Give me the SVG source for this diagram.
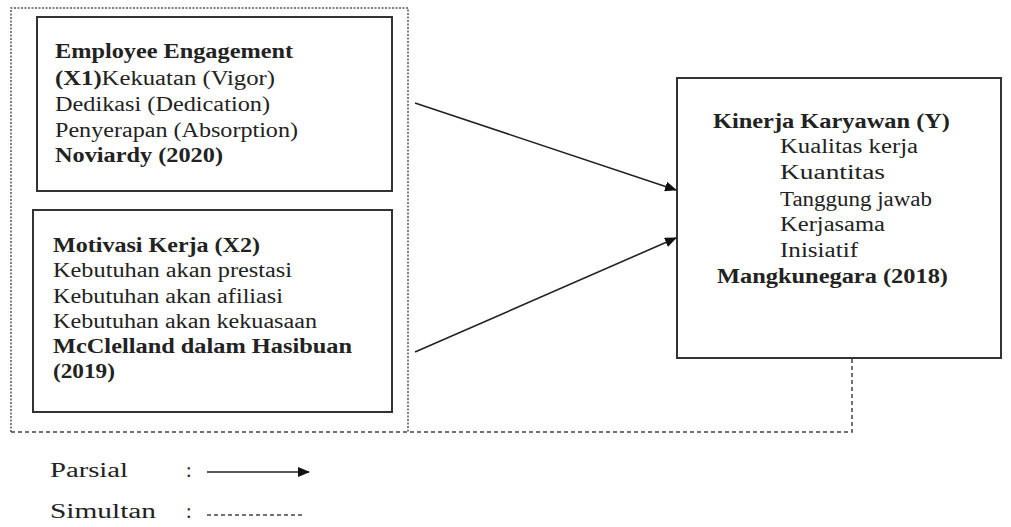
<svg xmlns="http://www.w3.org/2000/svg" width="1011" height="527" viewBox="0 0 1011 527">
<defs>
<style>
text{font-family:"Liberation Serif","Tinos","Times New Roman","DejaVu Serif",serif;font-size:20px;fill:#222}
.b{font-weight:bold}
.box{fill:none;stroke:#333;stroke-width:2}
.dot{fill:none;stroke:#555;stroke-width:1.5;stroke-dasharray:2 1.5}
.dash{fill:none;stroke:#444;stroke-width:1.5;stroke-dasharray:4 3}
.arr{stroke:#222;stroke-width:1.6;fill:none;marker-end:url(#ah)}
</style>
<marker id="ah" markerWidth="12" markerHeight="10" refX="11" refY="5" orient="auto" markerUnits="userSpaceOnUse">
<path d="M0,0 L12,5 L0,10 Z" fill="#111"/>
</marker>
</defs>
<rect width="1011" height="527" fill="#fff"/>
<g id="frame">
<path class="dot" d="M11,432 L11,8 L408,8 L408,432"/>
</g>
<g id="x1">
<rect class="box" x="37" y="17" width="355" height="174"/>
<text x="55" y="58" class="b" textLength="238" lengthAdjust="spacingAndGlyphs">Employee Engagement</text>
<text x="55" y="85" textLength="220" lengthAdjust="spacingAndGlyphs"><tspan class="b">(X1)</tspan>Kekuatan (Vigor)</text>
<text x="55" y="111" textLength="215" lengthAdjust="spacingAndGlyphs">Dedikasi (Dedication)</text>
<text x="55" y="137" textLength="243" lengthAdjust="spacingAndGlyphs">Penyerapan (Absorption)</text>
<text x="55" y="162" class="b" textLength="168" lengthAdjust="spacingAndGlyphs">Noviardy (2020)</text>
</g>
<g id="x2">
<rect class="box" x="33" y="210" width="359" height="202"/>
<text x="53" y="252" class="b" textLength="207" lengthAdjust="spacingAndGlyphs">Motivasi Kerja (X2)</text>
<text x="53" y="277" textLength="239" lengthAdjust="spacingAndGlyphs">Kebutuhan akan prestasi</text>
<text x="53" y="303" textLength="230" lengthAdjust="spacingAndGlyphs">Kebutuhan akan afiliasi</text>
<text x="53" y="328" textLength="264" lengthAdjust="spacingAndGlyphs">Kebutuhan akan kekuasaan</text>
<text x="53" y="353" class="b" textLength="299" lengthAdjust="spacingAndGlyphs">McClelland dalam Hasibuan</text>
<text x="53" y="378" class="b" textLength="62" lengthAdjust="spacingAndGlyphs">(2019)</text>
</g>
<g id="y">
<rect class="box" x="677" y="78" width="324" height="280"/>
<text x="713" y="128" class="b" textLength="237" lengthAdjust="spacingAndGlyphs">Kinerja Karyawan (Y)</text>
<text x="780" y="153" textLength="138" lengthAdjust="spacingAndGlyphs">Kualitas kerja</text>
<text x="780" y="179" textLength="105" lengthAdjust="spacingAndGlyphs">Kuantitas</text>
<text x="780" y="206" textLength="152" lengthAdjust="spacingAndGlyphs">Tanggung jawab</text>
<text x="780" y="231" textLength="105" lengthAdjust="spacingAndGlyphs">Kerjasama</text>
<text x="780" y="257" textLength="78" lengthAdjust="spacingAndGlyphs">Inisiatif</text>
<text x="717" y="283" class="b" textLength="231" lengthAdjust="spacingAndGlyphs">Mangkunegara (2018)</text>
</g>
<g id="connectors">
<line class="arr" x1="415" y1="103" x2="676" y2="190"/>
<line class="arr" x1="415" y1="352" x2="676" y2="238"/>
<path class="dash" d="M11,432 L852,432 L852,358"/>
</g>
<g id="legend">
<text x="50" y="477" textLength="78" lengthAdjust="spacingAndGlyphs">Parsial</text>
<text x="186" y="477">:</text>
<line class="arr" x1="207" y1="472" x2="309" y2="472"/>
<text x="50" y="518" textLength="106" lengthAdjust="spacingAndGlyphs">Simultan</text>
<text x="186" y="518">:</text>
<line class="dash" x1="207" y1="515" x2="302" y2="515" stroke-dasharray="6 4"/>
</g>
</svg>
